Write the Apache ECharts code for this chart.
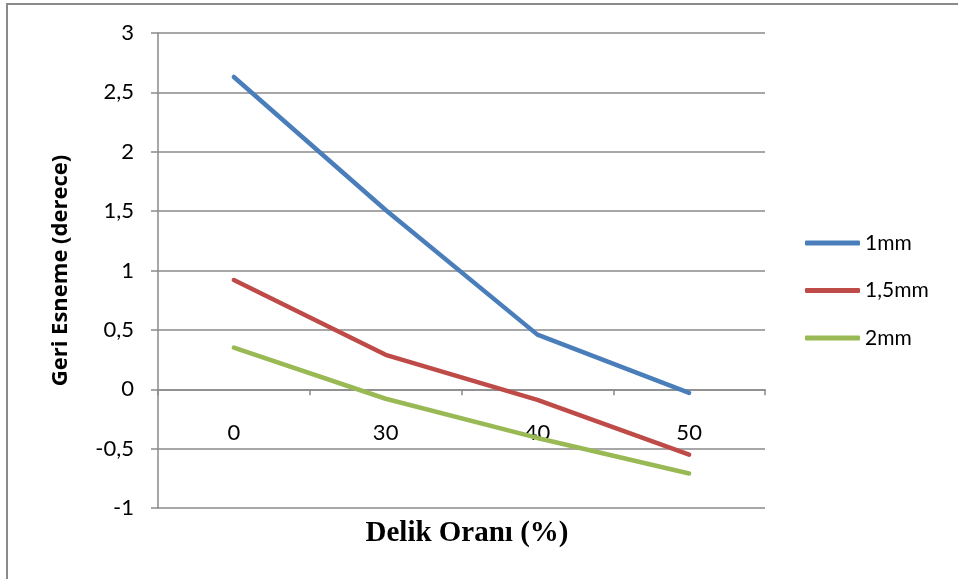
<!DOCTYPE html>
<html>
<head>
<meta charset="utf-8">
<script src="https://cdn.jsdelivr.net/npm/echarts@6/dist/echarts.min.js"></script>
<style>
  html, body { margin: 0; padding: 0; background: #fff; }
  #frame {
    position: absolute; left: 6px; top: 3px; width: 960px; height: 574px;
    border-left: 2px solid #8a8a8a; border-top: 2px solid #8a8a8a;
    border-bottom: 1px solid #d9d9d9;
  }
  #chart { position: absolute; left: 0; top: 0; width: 958px; height: 579px; }
</style>
</head>
<body>
<div id="frame"></div>
<div id="chart"></div>
<script>
// Delik oranı categories
const categories = ['0', '30', '40', '50']
// Geri esneme values per sheet thickness
const series1mm = [2.63, 1.51, 0.46, -0.03]
const series15mm = [0.92, 0.29, -0.09, -0.55]
const series2mm = [0.35, -0.08, -0.41, -0.71]

const COL_1 = '#4a7ebb'
const COL_15 = '#be4b48'
const COL_2 = '#98b954'
const GRID_COLOR = '#8a8a8a'
const SANS = 'Lato, "Open Sans", sans-serif'

function makeSeries(name, vals, color) {
  return {
    name,
    type: 'line',
    data: vals,
    symbol: 'none',
    lineStyle: { color, width: 4.5, cap: 'round', join: 'round' },
    itemStyle: { color },
  }
}

const chart = echarts.init(document.getElementById('chart'))
chart.setOption({
  animation: false,
  title: {
    text: 'Delik Oranı (%)',
    left: 462,
    top: 514,
    textAlign: 'center',
    textStyle: { fontFamily: '"Liberation Serif", serif', fontWeight: 'bold', fontSize: 29, color: '#000' },
  },
  legend: {
    orient: 'vertical',
    left: 805,
    top: 232,
    padding: 0,
    itemWidth: 55,
    itemHeight: 5,
    itemGap: 25.5,
    icon: 'roundRect',
    textStyle: { fontFamily: SANS, fontSize: 21, color: '#000', lineHeight: 22 },
    data: ['1mm', '1,5mm', '2mm'],
  },
  grid: { left: 158, right: 193, top: 33, bottom: 71 },
  xAxis: {
    type: 'category',
    data: categories,
    boundaryGap: true,
    axisLine: { onZero: true, lineStyle: { color: GRID_COLOR, width: 1.5 } },
    axisTick: { show: true, length: 6, lineStyle: { color: GRID_COLOR, width: 1.5 } },
    axisLabel: { fontFamily: SANS, fontSize: 22, color: '#000', margin: -86 },
  },
  yAxis: {
    type: 'value',
    min: -1,
    max: 3,
    interval: 0.5,
    name: 'Geri Esneme (derece)',
    nameLocation: 'middle',
    nameGap: 86,
    nameTextStyle: { fontFamily: '"Open Sans", sans-serif', fontWeight: 'bold', fontSize: 22, color: '#000' },
    axisLine: { show: true, lineStyle: { color: GRID_COLOR, width: 1.5 } },
    axisTick: { show: true, length: 7, lineStyle: { color: GRID_COLOR, width: 1.5 } },
    splitLine: { lineStyle: { color: GRID_COLOR, width: 1.5 } },
    axisLabel: {
      fontFamily: SANS, fontSize: 22, color: '#000', margin: 24,
      formatter: (v) => String(v).replace('.', ','),
    },
  },
  series: [
    makeSeries('1mm', series1mm, COL_1),
    makeSeries('1,5mm', series15mm, COL_15),
    makeSeries('2mm', series2mm, COL_2),
  ],
})
</script>
</body>
</html>
